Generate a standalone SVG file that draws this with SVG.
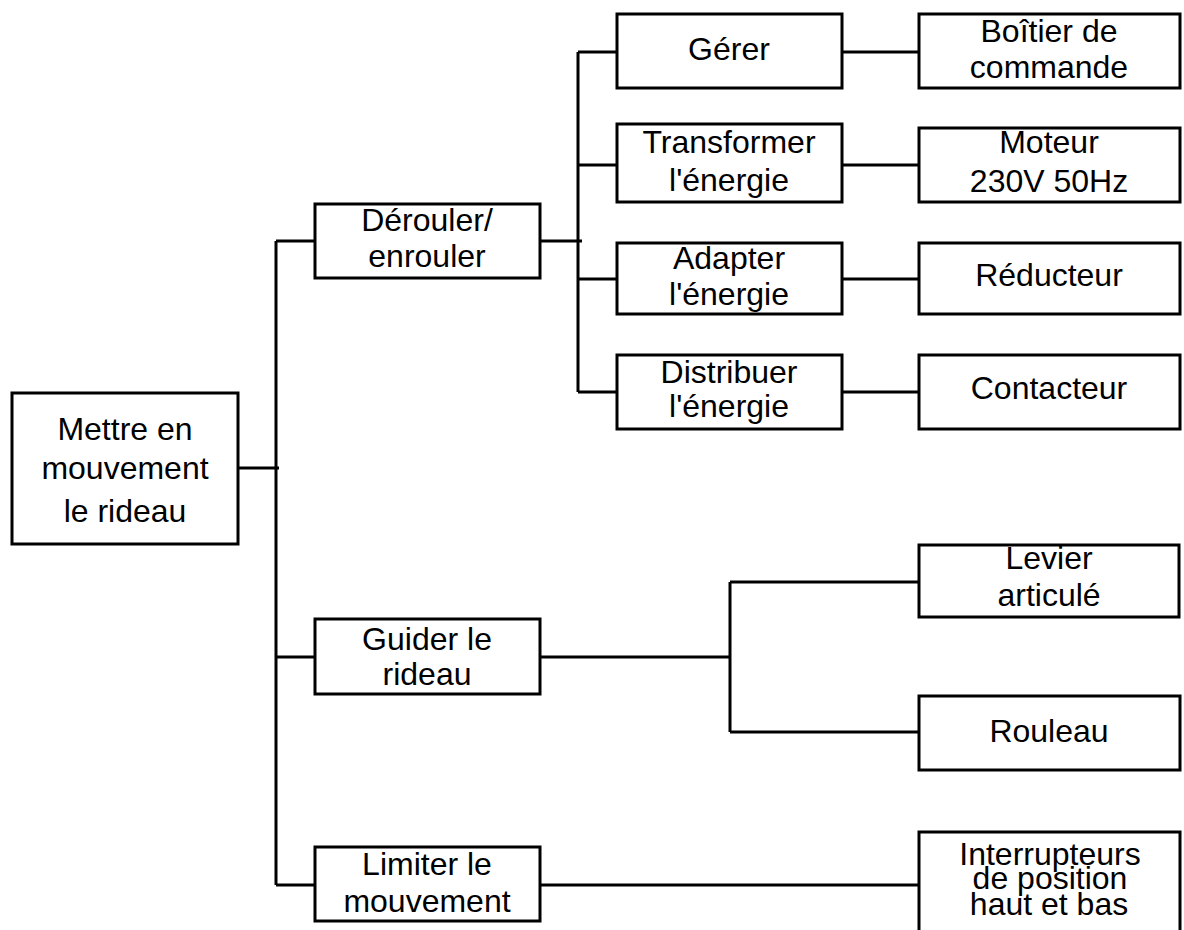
<svg xmlns="http://www.w3.org/2000/svg" width="1184" height="930" viewBox="0 0 1184 930">
<style>
.box{fill:#fff;stroke:#000;stroke-width:3}
.ln{fill:none;stroke:#000;stroke-width:3}
text{font-family:"Liberation Sans",Arial,sans-serif;font-size:32px;fill:#000;text-anchor:middle}
</style>
<rect width="1184" height="930" fill="#fff"/>
<g id="connectors" class="ln">
<path d="M238 468H279M276 241V885M276 241H315M276 657H315M276 885H315"/>
<path d="M540 241H582M578 52V392M578 52H617M578 165H617M578 279H617M578 392H617"/>
<path d="M842 52H919M842 165H919M842 279H919M842 392H919"/>
<path d="M540 657H730M730 582V732M730 582H919M730 732H919"/>
<path d="M540 885H919"/>
</g>
<g id="root"><rect class="box" x="12" y="393" width="226" height="151"/>
<text x="125" y="440">Mettre en</text><text x="125" y="479">mouvement</text><text x="125" y="522">le rideau</text></g>
<g id="derouler"><rect class="box" x="315" y="204" width="225" height="74"/>
<text x="427" y="231">Dérouler/</text><text x="427" y="267">enrouler</text></g>
<g id="guider"><rect class="box" x="315" y="619" width="225" height="75"/>
<text x="427" y="650">Guider le</text><text x="427" y="685">rideau</text></g>
<g id="limiter"><rect class="box" x="315" y="847" width="225" height="74"/>
<text x="427" y="875">Limiter le</text><text x="427" y="912">mouvement</text></g>
<g id="gerer"><rect class="box" x="617" y="14" width="225" height="74"/>
<text x="729" y="60">Gérer</text></g>
<g id="transformer"><rect class="box" x="617" y="124" width="225" height="78"/>
<text x="729" y="153">Transformer</text><text x="729" y="191">l'énergie</text></g>
<g id="adapter"><rect class="box" x="617" y="243" width="225" height="71"/>
<text x="729" y="269">Adapter</text><text x="729" y="305">l'énergie</text></g>
<g id="distribuer"><rect class="box" x="617" y="355" width="225" height="74"/>
<text x="729" y="383">Distribuer</text><text x="729" y="417">l'énergie</text></g>
<g id="boitier"><rect class="box" x="919" y="14" width="261" height="74"/>
<text x="1049" y="42">Boîtier de</text><text x="1049" y="78">commande</text></g>
<g id="moteur"><rect class="box" x="919" y="128" width="261" height="74"/>
<text x="1049" y="153">Moteur</text><text x="1049" y="192">230V 50Hz</text></g>
<g id="reducteur"><rect class="box" x="919" y="243" width="261" height="71"/>
<text x="1049" y="286">Réducteur</text></g>
<g id="contacteur"><rect class="box" x="919" y="355" width="261" height="74"/>
<text x="1049" y="399">Contacteur</text></g>
<g id="levier"><rect class="box" x="919" y="545" width="260" height="72"/>
<text x="1049" y="569">Levier</text><text x="1049" y="606">articulé</text></g>
<g id="rouleau"><rect class="box" x="919" y="696" width="261" height="74"/>
<text x="1049" y="742">Rouleau</text></g>
<g id="interrupteurs"><rect class="box" x="919" y="832" width="261" height="130"/>
<text x="1050" y="865">Interrupteurs</text><text x="1050" y="889">de position</text><text x="1049" y="915">haut et bas</text></g>
</svg>
